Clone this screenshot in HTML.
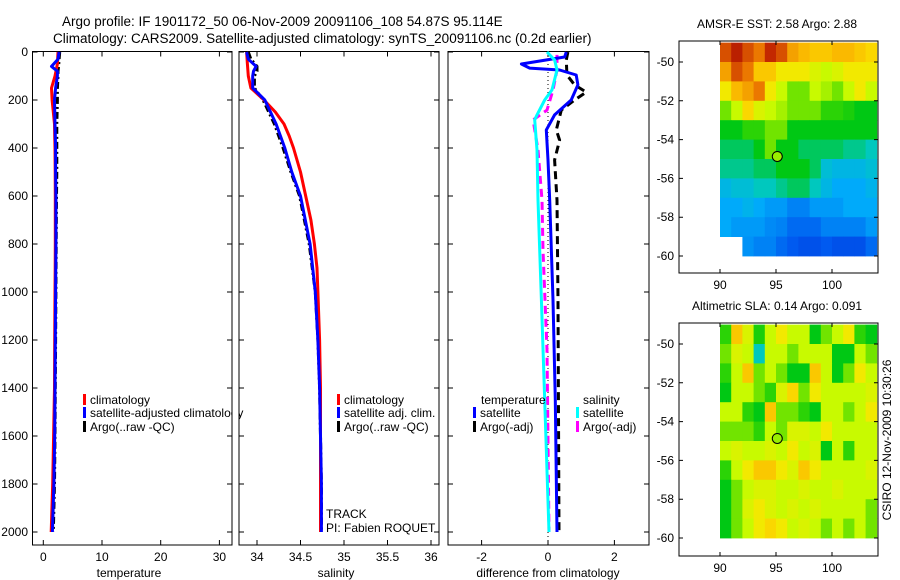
<!DOCTYPE html>
<html><head><meta charset="utf-8"><style>
body{margin:0;background:#fff;}
svg{display:block;font-family:"Liberation Sans",sans-serif;}
text{font-size:12px;fill:#000;}
</style></head><body>
<svg id="fig" width="900" height="580" viewBox="0 0 900 580">
<text x="62" y="26" style="font-size:13.5px">Argo profile: IF 1901172_50 06-Nov-2009 20091106_108 54.87S 95.114E</text>
<text x="53" y="43" style="font-size:13.5px">Climatology: CARS2009. Satellite-adjusted climatology: synTS_20091106.nc (0.2d earlier)</text>
<text transform="translate(891,440) rotate(-90)" text-anchor="middle">CSIRO 12-Nov-2009 10:30:26</text>
</svg>
<script>
// ---------- data ----------
const depthTicks=[0,200,400,600,800,1000,1200,1400,1600,1800,2000];
const tempTicks=[0,10,20,30];
const salTicks=[34,34.5,35,35.5,36];
const diffTicks=[-2,0,2];
const climDepth=[0,50,100,150,200,250,300,350,400,500,600,700,800,900,1000,1200,1400,1600,1800,2000];
const climTemp=[2.5,2.4,2.0,1.4,1.5,1.7,1.9,1.95,2.0,2.02,2.05,2.05,2.05,2.02,2.0,1.95,1.9,1.75,1.6,1.35];
const climSal=[33.88,33.89,33.9,33.93,34.08,34.21,34.31,34.37,34.42,34.5,34.56,34.62,34.66,34.69,34.7,34.72,34.73,34.73,34.73,34.73];
const satDepth=[0,30,60,80,100,150,200,300,400,500,600,800,1000,1200,1400,1600,1800,2000];
const satTemp=[2.7,2.5,1.4,2.4,2.4,2.1,1.9,2.0,2.1,2.1,2.15,2.15,2.1,2.05,2.0,1.95,1.8,1.55];
const satSal=[33.88,33.9,33.99,33.96,33.95,33.95,34.09,34.22,34.32,34.4,34.5,34.61,34.67,34.7,34.72,34.73,34.74,34.74];
const argoTemp=[2.8,2.7,2.6,2.5,2.5,2.4,2.4,2.3,2.3,2.3,2.25,2.2,2.15,2.1,2.05,2.0,1.9,1.7];
const argoSal=[33.9,33.93,34.0,34.0,33.97,33.97,34.07,34.2,34.3,34.39,34.49,34.6,34.67,34.7,34.72,34.73,34.74,34.74];
const dTsatDepth=[0,21,50,67,75,96,137,200,262,325,450,617,1033,1450,2000];
const dTsat=[0.55,0.5,-0.8,-0.55,0.35,0.85,0.9,0.7,0.2,-0.05,0,0.05,0.15,0.22,0.27];
const dTargoDepth=[0,33,96,137,167,200,242,325,367,450,617,1033,2000];
const dTargo=[0.6,0.55,0.57,0.8,1.15,0.8,0.4,0.25,0.35,0.2,0.27,0.3,0.33];
const dSsatDepth=[0,33,75,158,200,262,283,408,617,1033,1450,2000];
const dSsat=[-0.03,0.2,0.27,0.12,-0.1,-0.33,-0.4,-0.33,-0.3,-0.2,-0.1,0.03];
const dSargoDepth=[12,75,158,242,283,408,617,825,1242,2000];
const dSargo=[0.27,0.27,0.15,-0.03,-0.45,-0.3,-0.18,-0.15,-0.03,0.03];
const mapLon=[90,91,92,93,94,95,96,97,98,99,100,101,102,103];
const mapLat=[-49,-50,-51,-52,-53,-54,-55,-56,-57,-58,-59];
const sstGrid=[
[0.85,0.92,0.85,0.8,0.9,0.85,0.75,0.72,0.7,0.7,0.72,0.72,0.7,0.68],
[0.75,0.85,0.8,0.7,0.7,0.65,0.65,0.65,0.62,0.6,0.62,0.65,0.65,0.65],
[0.65,0.72,0.75,0.8,0.65,0.6,0.55,0.55,0.6,0.58,0.55,0.6,0.65,0.6],
[0.55,0.6,0.68,0.62,0.6,0.58,0.55,0.55,0.55,0.5,0.5,0.48,0.45,0.45],
[0.45,0.45,0.5,0.5,0.55,0.55,0.45,0.45,0.45,0.45,0.45,0.45,0.45,0.45],
[0.42,0.42,0.42,0.45,0.55,0.45,0.45,0.42,0.42,0.42,0.42,0.4,0.4,0.38],
[0.4,0.4,0.4,0.42,0.42,0.45,0.45,0.45,0.42,0.35,0.33,0.33,0.33,0.35],
[0.33,0.35,0.35,0.38,0.38,0.4,0.42,0.42,0.38,0.33,0.3,0.3,0.3,0.32],
[0.3,0.3,0.32,0.3,0.28,0.28,0.25,0.25,0.28,0.28,0.28,0.3,0.3,0.3],
[0.3,0.28,0.28,0.28,0.26,0.25,0.22,0.22,0.22,0.25,0.25,0.25,0.25,0.28],
[null,null,0.27,0.25,0.25,0.22,0.2,0.18,0.18,0.2,0.18,0.18,0.18,0.22]];
const slaGrid=[
[0.5,0.7,0.62,0.48,0.6,0.65,0.6,0.6,0.45,0.55,0.6,0.65,0.5,0.45],
[0.55,0.62,0.6,0.38,0.6,0.6,0.55,0.6,0.6,0.6,0.45,0.45,0.6,0.55],
[0.5,0.6,0.7,0.55,0.6,0.55,0.45,0.45,0.7,0.6,0.45,0.55,0.65,0.6],
[0.45,0.6,0.6,0.55,0.5,0.62,0.68,0.55,0.65,0.6,0.6,0.6,0.6,0.62],
[0.6,0.6,0.5,0.45,0.7,0.55,0.55,0.5,0.45,0.6,0.6,0.55,0.6,0.65],
[0.55,0.55,0.55,0.5,0.6,0.55,0.62,0.62,0.6,0.65,0.6,0.6,0.6,0.6],
[0.6,0.62,0.6,0.6,0.62,0.6,0.65,0.6,0.62,0.45,0.6,0.5,0.6,0.6],
[0.5,0.6,0.65,0.7,0.7,0.65,0.62,0.7,0.65,0.6,0.6,0.6,0.6,0.62],
[0.45,0.55,0.6,0.62,0.62,0.6,0.6,0.62,0.6,0.6,0.62,0.6,0.6,0.6],
[0.45,0.55,0.62,0.65,0.62,0.6,0.62,0.6,0.62,0.6,0.6,0.6,0.6,0.55],
[0.45,0.55,0.6,0.65,0.68,0.65,0.6,0.62,0.6,0.55,0.6,0.55,0.6,0.55]];
const lonTicks=[90,95,100];
const latTicks=[-50,-52,-54,-56,-58,-60];
const argoLon=95.114, argoLat=-54.87;

// ---------- helpers ----------
const NS="http://www.w3.org/2000/svg";
const svg=document.getElementById('fig');
function mk(tag,attrs,parent){const e=document.createElementNS(NS,tag);for(const k in attrs)e.setAttribute(k,attrs[k]);(parent||svg).appendChild(e);return e;}
const yD=d=>52+0.24*d;
const xT=v=>43.3+5.87*v;
const xS=v=>257+87*(v-34);
const xDf=v=>548+33.2*v;

function frame(x0,x1,name){
  const r=mk('rect',{x:x0,y:51.5,width:x1-x0,height:493.5,fill:'none',stroke:'#000','stroke-width':1});
  
  
  depthTicks.forEach(d=>{
    const t=mk('path',{d:`M${x0},${yD(d)}h5M${x1},${yD(d)}h-5`,stroke:'#000'});
    
    
  });
}
function xticks(ticks,sx,name){
  ticks.forEach(v=>{
    const x=sx(v);
    const t=mk('path',{d:`M${x},51.5v5M${x},545v-5`,stroke:'#000'});
    
    
    const l=mk('text',{x:x,y:561,'text-anchor':'middle'});l.textContent=v;
    
    
  });
}
function line(xs,ds,sx,color,w,dash,name){
  const pts=xs.map((v,i)=>sx(v).toFixed(1)+','+yD(ds[i]).toFixed(1)).join(' ');
  const p=mk('polyline',{points:pts,fill:'none',stroke:color,'stroke-width':w,'stroke-linejoin':'round'});
  if(dash)p.setAttribute('stroke-dasharray',dash);
  
  
}
function legend(x,y,color,label,name){
  const r=mk('rect',{x:x,y:y-10,width:3,height:11,fill:color});
  
  
  const t=mk('text',{x:x+7,y:y});t.textContent=label;
  
  
}
function label(x,y,txt,name,anchor){
  const t=mk('text',{x:x,y:y,'text-anchor':anchor||'start'});t.textContent=txt;
  
  
}

// ---------- panel 1: temperature ----------
frame(32.5,232,'temperature-panel');
depthTicks.forEach(d=>label(28,yD(d)+4,d,'depth-tick-label','end'));
xticks(tempTicks,xT,'temperature');
label(129,577,'temperature','temperature-axis-title','middle');
line(argoTemp,satDepth,xT,'#000',3,'7 3 2 3','argo-temperature-line');
line(climTemp,climDepth,xT,'#f00',3,null,'climatology-temperature-line');
line(satTemp,satDepth,xT,'#00f',3,null,'satellite-temperature-line');
legend(83,404,'#f00','climatology','legend-climatology');
legend(83,417,'#00f','satellite-adjusted climatology','legend-satellite-adjusted');
legend(83,431,'#000','Argo(..raw -QC)','legend-argo');
mk('rect',{x:232.5,y:380,width:6,height:60,fill:'#fff'});

// ---------- panel 2: salinity ----------
frame(239,439,'salinity-panel');
xticks(salTicks,xS,'salinity');
label(336,577,'salinity','salinity-axis-title','middle');
line(argoSal,satDepth,xS,'#000',3,'7 3 2 3','argo-salinity-line');
line(climSal,climDepth,xS,'#f00',3,null,'climatology-salinity-line');
line(satSal,satDepth,xS,'#00f',3,null,'satellite-salinity-line');
legend(337,404,'#f00','climatology','legend-climatology-2');
legend(337,417,'#00f','satellite adj. clim.','legend-satellite-adj-2');
legend(337,431,'#000','Argo(..raw -QC)','legend-argo-2');
label(326,518,'TRACK','track-label');
label(326,532,'PI: Fabien ROQUET','pi-label');

// ---------- panel 3: difference ----------
frame(448,649,'difference-panel');
xticks(diffTicks,xDf,'difference');
label(548,577,'difference from climatology','difference-axis-title','middle');
const zl=mk('path',{d:`M${xDf(0)},52V545`,stroke:'#000','stroke-dasharray':'1 3'});


line(dTargo,dTargoDepth,xDf,'#000',3,'8 5','argo-temperature-difference-line');
line(dSargo,dSargoDepth,xDf,'#f0f',3,'8 5','argo-salinity-difference-line');
line(dTsat,dTsatDepth,xDf,'#00f',3,null,'satellite-temperature-difference-line');
line(dSsat,dSsatDepth,xDf,'#0ff',3,null,'satellite-salinity-difference-line');
label(481,404,'temperature','legend-temperature-heading');
legend(473,417,'#00f','satellite','legend-temp-satellite');
legend(473,431,'#000','Argo(-adj)','legend-temp-argo');
label(583,404,'salinity','legend-salinity-heading');
legend(576,417,'#0ff','satellite','legend-sal-satellite');
legend(576,431,'#f0f','Argo(-adj)','legend-sal-argo');

// ---------- maps ----------
const cmapStops=[[0,[0,0,180]],[0.2,[0,90,240]],[0.3,[0,170,250]],[0.38,[0,200,190]],[0.45,[0,200,20]],[0.52,[60,215,0]],[0.6,[200,250,0]],[0.66,[250,230,0]],[0.72,[250,185,0]],[0.8,[235,120,0]],[0.9,[195,40,0]],[1,[150,0,0]]];
function cmap(v){
  for(let i=1;i<cmapStops.length;i++){
    const [a,ca]=cmapStops[i-1],[b,cb]=cmapStops[i];
    if(v<=b){const t=(v-a)/(b-a);return `rgb(${ca.map((c,k)=>Math.round(c+(cb[k]-c)*t)).join(',')})`;}
  }
  return 'rgb(150,0,0)';
}
function map(top,bottom,grid,title,name){
  const x0=679,x1=878,lx=lon=>720+11.2*(lon-90);
  const y50=top+21,ly=lat=>y50+19.4*(-50-lat);
  label(777,top-13,title,name+'-title','middle');
  grid.forEach((row,i)=>row.forEach((v,j)=>{
    if(v===null)return;
    const r=mk('rect',{x:lx(mapLon[j]).toFixed(1),y:ly(mapLat[i]).toFixed(1),width:11.6,height:19.8,fill:cmap(v)});
    
    
  }));
  const f=mk('rect',{x:x0,y:top,width:x1-x0,height:bottom-top,fill:'none',stroke:'#000'});
  
  
  lonTicks.forEach(l=>{
    const t=mk('path',{d:`M${lx(l)},${top}v4M${lx(l)},${bottom}v-4`,stroke:'#000'});
    
    
    label(lx(l),bottom+16,l,name+'-lon-label','middle');
  });
  latTicks.forEach(l=>{
    const t=mk('path',{d:`M${x0},${ly(l)}h4M${x1},${ly(l)}h-4`,stroke:'#000'});
    
    
    label(674,ly(l)+4,l,name+'-lat-label','end');
  });
  const c=mk('circle',{cx:lx(argoLon),cy:ly(argoLat),r:5,fill:'#9e0',stroke:'#000'});
  
  
}
map(41,273,sstGrid,'AMSR-E SST: 2.58 Argo: 2.88','sst-map');
map(323,556,slaGrid,'Altimetric SLA: 0.14 Argo: 0.091','sla-map');
</script>
</body></html>
